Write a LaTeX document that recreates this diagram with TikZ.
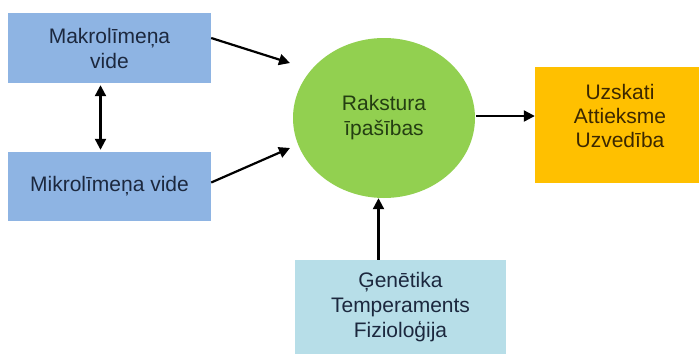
\documentclass[tikz,border=0pt]{standalone}
\usepackage{fontspec}
\setmainfont{Liberation Sans}
\usetikzlibrary{arrows.meta,shapes.geometric}
\definecolor{boxblue}{RGB}{142,180,227}
\definecolor{boxgreen}{RGB}{146,208,80}
\definecolor{boxorange}{RGB}{255,192,0}
\definecolor{boxcyan}{RGB}{183,222,232}
\definecolor{txtblue}{RGB}{28,40,62}
\definecolor{txtgreen}{RGB}{36,62,18}
\definecolor{txtbrown}{RGB}{60,40,0}
\tikzset{box/.style={draw=none, inner sep=0mm, align=center, font=\fontsize{21}{25}\selectfont},
         arr/.style={line width=2.2pt, -{Triangle[length=11pt, width=11pt]}},
         darr/.style={line width=2.2pt, {Triangle[length=11pt, width=11pt]}-{Triangle[length=11pt, width=11pt]}}}

\begin{document}
\begin{tikzpicture}[x=1pt, y=-1pt]
    \useasboundingbox (0,0) rectangle (699,354);

    \node (makro) at (109.5, 48) [box, fill=boxblue, text=txtblue, minimum width=203pt, minimum height=70pt] {Makrolīmeņa\\vide};
    \node (mikro) at (109.5, 186.5) [box, fill=boxblue, text=txtblue, minimum width=203pt, minimum height=69pt] {Mikrolīmeņa vide};
    \node (rakst) at (384, 118) [box, ellipse, fill=boxgreen, text=txtgreen, minimum width=182pt, minimum height=160pt] {Rakstura\\īpašības};
    \node (uzsk) at (617, 125) [box, fill=boxorange, minimum width=164pt, minimum height=116pt,
        label={[box, text=txtbrown, xshift=3pt, yshift=9pt, font=\fontsize{21}{24}\selectfont]center:Uzskati\\Attieksme\\Uzvedība}] {};
    \node (genet) at (400.5, 307) [box, fill=boxcyan, text=txtblue, minimum width=211pt, minimum height=94pt] {Ģenētika\\Temperaments\\Fizioloģija};

    % arrows
    \draw[arr] ([yshift=10pt]makro.east) -- ([shift={(-94,-55)}]rakst.center);
    \draw[arr] ([yshift=4pt]mikro.east) -- ([shift={(-94,30)}]rakst.center);
    \draw[darr] ([xshift=-9pt, yshift=-2pt]makro.south) -- ([xshift=-9pt, yshift=2pt]mikro.north);
    \draw[arr] ([shift={(1,-2)}]rakst.east) -- ([yshift=9pt]uzsk.west);
    \draw[arr] ([xshift=-22pt]genet.north) -- ([xshift=-22pt]genet.north |- rakst.south);
\end{tikzpicture}
\end{document}
